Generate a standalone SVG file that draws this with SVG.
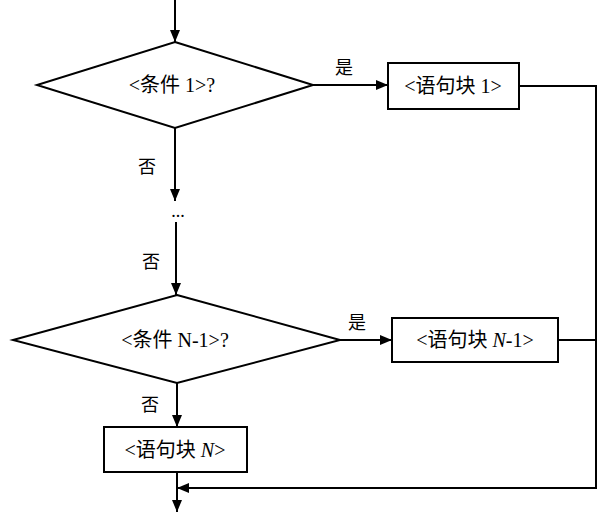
<svg xmlns="http://www.w3.org/2000/svg" width="613" height="519" viewBox="0 0 613 519">
<style>
.shape{fill:#fff;stroke:#000;stroke-width:2}
.ln{fill:none;stroke:#000;stroke-width:2}
.t{font-family:"Liberation Serif","Noto Sans CJK SC",serif;font-size:20px;fill:#000;text-anchor:middle;dominant-baseline:central}
.lbl{font-family:"Liberation Serif","Noto Sans CJK SC",serif;font-size:18px;fill:#000;text-anchor:middle;dominant-baseline:central}
</style>
<defs>
<marker id="arr" viewBox="0 0 12 10" refX="12" refY="5" markerWidth="12" markerHeight="10" markerUnits="userSpaceOnUse" orient="auto">
<path d="M0,0 L12,5 L0,10 Z" fill="#000"/>
</marker>
</defs>
<g id="connectors">
<line class="ln" x1="175" y1="0" x2="175" y2="42" marker-end="url(#arr)"/>
<line class="ln" x1="313" y1="85" x2="388" y2="85" marker-end="url(#arr)"/>
<line class="ln" x1="175" y1="128" x2="175" y2="201" marker-end="url(#arr)"/>
<line class="ln" x1="176" y1="222" x2="176" y2="295" marker-end="url(#arr)"/>
<line class="ln" x1="340" y1="340" x2="392" y2="340" marker-end="url(#arr)"/>
<line class="ln" x1="177" y1="383" x2="177" y2="427" marker-end="url(#arr)"/>
<polyline class="ln" points="519,86 596,86 596,488 177,488" marker-end="url(#arr)"/>
<line class="ln" x1="558" y1="340" x2="596" y2="340"/>
<line class="ln" x1="177" y1="472" x2="177" y2="512" marker-end="url(#arr)"/>
<text class="lbl" x="344" y="68">是</text>
<text class="lbl" x="147" y="167">否</text>
<text class="lbl" x="178" y="211">...</text>
<text class="lbl" x="151" y="262">否</text>
<text class="lbl" x="357" y="323">是</text>
<text class="lbl" x="150" y="405">否</text>
</g>
<g id="cond1">
<polygon class="shape" points="175,42 313,85 175,128 37,85"/>
<text class="t" x="172" y="85">&lt;条件 1&gt;?</text>
</g>
<g id="block1">
<rect class="shape" x="388" y="63" width="131" height="46"/>
<text class="t" x="453" y="86">&lt;语句块 1&gt;</text>
</g>
<g id="condN1">
<polygon class="shape" points="177,295 340,340 177,383 13,340"/>
<text class="t" x="175" y="340">&lt;条件 N-1&gt;?</text>
</g>
<g id="blockN1">
<rect class="shape" x="392" y="318" width="166" height="44"/>
<text class="t" x="475" y="340">&lt;语句块 <tspan font-style="italic">N</tspan>-1&gt;</text>
</g>
<g id="blockN">
<rect class="shape" x="104" y="427" width="143" height="45"/>
<text class="t" x="175" y="450">&lt;语句块 <tspan font-style="italic">N</tspan>&gt;</text>
</g>
</svg>
